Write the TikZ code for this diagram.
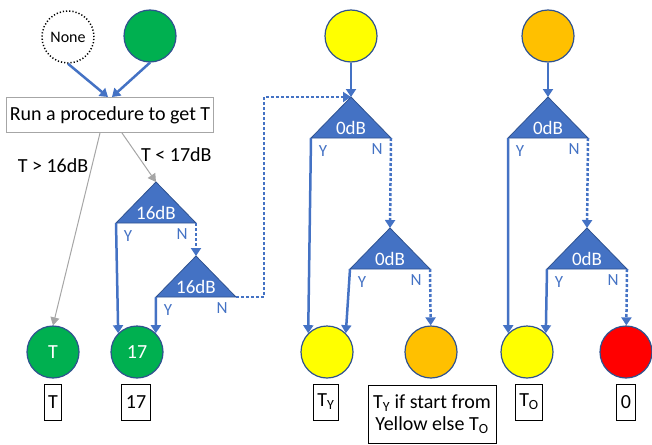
\documentclass[tikz,border=0pt]{standalone}
\usepackage{fontspec}
\setmainfont{Carlito}
\usetikzlibrary{arrows.meta}

\definecolor{ballgreen}{HTML}{00B050}
\definecolor{ballyellow}{HTML}{FFFF00}
\definecolor{ballorange}{HTML}{FFC000}
\definecolor{ballred}{HTML}{FF0000}
\definecolor{ofblue}{HTML}{4472C4}
\definecolor{ofdark}{HTML}{2F528F}
\definecolor{ofgray}{HTML}{A6A6A6}

\tikzset{
  ball/.style={circle, minimum size=52pt, inner sep=0pt, draw=ofdark, line width=1.2pt, text=white, font=\fontsize{20}{22}\selectfont},
  tri/.style={fill=ofblue, draw=ofdark, line width=0.8pt, line join=miter},
  tritext/.style={inner sep=0pt, text=white, font=\fontsize{19}{21}\selectfont},
  yn/.style={inner sep=0pt, text=ofblue, font=\fontsize{17}{19}\selectfont},
  lbl/.style={draw, line width=1pt, minimum height=36pt, inner xsep=4pt, font=\fontsize{20}{22.5}\selectfont},
  yes/.style={ofblue, line width=2.5pt, -{Triangle[width=10pt,length=8pt]}},
  nope/.style={yes, dash pattern=on 3pt off 2pt},
  cond/.style={ofgray, line width=1pt, -{Triangle[width=9pt,length=8pt]}}
}

\begin{document}
\begin{tikzpicture}[x=1pt,y=-1pt]
	\useasboundingbox (0,0) rectangle (652,444);
	\def\myBalls{gtop/150/36/ballgreen, ytop/351/36/ballyellow, otop/548/36/ballorange, cY1/327/352/ballyellow, cO1/431/352/ballorange, cY2/527/352/ballyellow, cR/626/352/ballred}
	\def\myTris{ta/156/182/16dB, tb/196/256/16dB, tc/351/97/0dB, td/390/228/0dB, te/548/97/0dB, tf/587/228/0dB}
	\node[ball, draw=black, fill=white, dotted, line width=1.5pt, text=black, font=\fontsize{16}{18}\selectfont] (none) at (68,37) {None};
	\foreach \n/\x/\y/\c in \myBalls
	\node[ball, fill=\c] (\n) at (\x,\y) {};
	\node[ball, fill=ballgreen] (cT) at (53,352) {T};
	\node[ball, fill=ballgreen] (c17) at (137,352) {17};
	\node[draw=ofgray, line width=1pt, minimum width=207pt, minimum height=35pt, inner xsep=2pt, font=\fontsize{20}{22}\selectfont] (run) at (110,115) {Run a procedure to get T};
	\foreach \n/\x/\y/\t in \myTris {
		\coordinate (\n-a) at (\x,\y);
		\coordinate (\n-l) at (\x-40,\y+41);
		\coordinate (\n-r) at (\x+40,\y+41);
		\draw[tri] (\n-a) -- (\n-l) -- (\n-r) -- cycle;
		\node[tritext] (\n-t) at (\x,\y+31) {\t};
		\node[yn] (\n-y) at (\x-28,\y+54) {Y};
		\node[yn] (\n-n) at (\x+26,\y+52) {N};
	}
	\node[lbl] (bT) at (53,402) {T};
	\node[lbl] (b17) at (136,402) {17};
	\node[lbl] (bY1) at (326,402) {T\textsubscript{Y}};
	\node[lbl, align=center, minimum width=128pt, minimum height=58pt, inner ysep=2pt] (bO1) at (432,414) {T\textsubscript{Y} if start from\\Yellow else T\textsubscript{O}};
	\node[lbl] (bY2) at (529,402) {T\textsubscript{O}};
	\node[lbl] (bR) at (626,402) {0};
	\draw[yes] (none.south) -- ([xshift=-2pt]run.north);
	\draw[yes] (gtop.south) -- ([xshift=2pt]run.north);
	\draw[cond] ([xshift=-10pt]run.south) -- node[pos=0.17, left, text=black, font=\fontsize{20}{22}\selectfont] {T > 16dB} (cT.north);
	\draw[cond] ([xshift=12pt]run.south) -- node[pos=0.45, right, text=black, font=\fontsize{20}{22}\selectfont] {T < 17dB} (ta-a);
	\draw[yes] (ytop) -- (tc-a);
	\draw[yes] (otop) -- (te-a);
	\draw[yes] (ta-l) -- (c17.north west);
	\draw[yes] (tb-l) -- (c17.north east);
	\draw[yes] (tc-l) -- (cY1.north west);
	\draw[yes] (td-l) -- (cY1.north east);
	\draw[yes] (te-l) -- (cY2.north west);
	\draw[yes] (tf-l) -- (cY2.north east);
	\draw[nope] (ta-r) -- (tb-a);
	\draw[nope] (tb-r) -- ++(28,0) |- (tc-a);
	\draw[nope] (tc-r) -- (td-a);
	\draw[nope] (td-r) -- (cO1);
	\draw[nope] (te-r) -- (tf-a);
	\draw[nope] (tf-r) -- (cR);
\end{tikzpicture}
\end{document}
